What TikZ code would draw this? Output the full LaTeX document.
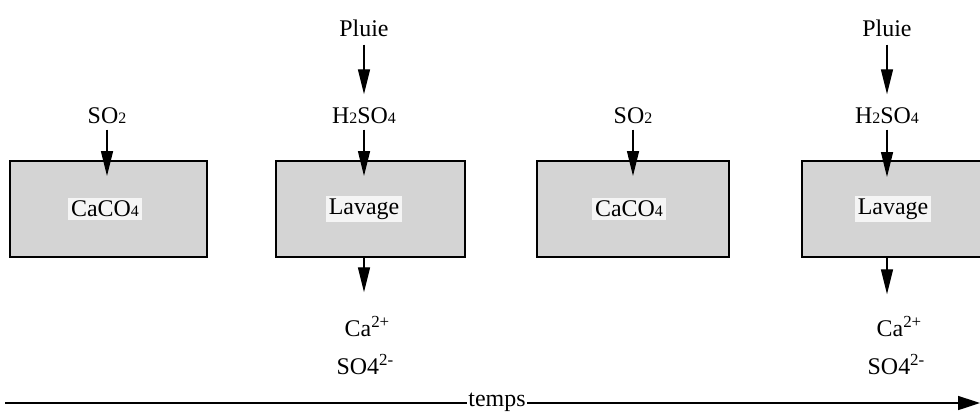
\documentclass[tikz,border=0pt]{standalone}
\usepackage{fontspec}
\setmainfont{Liberation Serif}
\usetikzlibrary{arrows.meta}
\newcommand\chsub[1]{{\fontsize{16}{16}\selectfont #1}}
\newcommand\chsup[1]{\raisebox{9.5bp}{\fontsize{17}{17}\selectfont #1}}
\begin{document}
\begin{tikzpicture}[x=1bp,y=-1bp,
  every node/.style={font=\fontsize{24}{28}\selectfont},
  proc/.style={draw=black, line width=2bp, fill=black!17, minimum height=96bp, inner sep=0pt},
  lbl/.style={inner sep=2bp, text height=17bp, text depth=4bp},
  boxlbl/.style={fill=black!4, inner sep=3bp},
  arr/.style={line width=1.3bp, -{Triangle[length=25bp,width=12bp]}},
  axis/.style={line width=1.6bp, -{Triangle[length=22bp,width=14bp]}}]
\useasboundingbox (0,0) rectangle (980,412);
\clip (0,0) rectangle (980,412);

% boxes
\node[proc, minimum width=197bp] (b1) at (108.5,209) {};
\node[proc, minimum width=189bp] (b2) at (370.5,209) {};
\node[proc, minimum width=192bp] (b3) at (633,209) {};
\node[proc, minimum width=189bp] (b4) at (896.5,209) {};
\node[boxlbl] (t1) at (105,209) {CaCO\chsub{4}};
\node[boxlbl] (t2) at (364,209) {Lavage};
\node[boxlbl] (t3) at (629,209) {CaCO\chsub{4}};
\node[boxlbl] (t4) at (893,209) {Lavage};

% top labels
\node[lbl] (s1) at (107,117) {SO\chsub{2}};
\node[lbl] (p2) at (364,30) {Pluie};
\node[lbl] (h2) at (364,117) {H\chsub{2}SO\chsub{4}};
\node[lbl] (s3) at (633,117) {SO\chsub{2}};
\node[lbl] (p4) at (887,30) {Pluie};
\node[lbl] (h4) at (887,117) {H\chsub{2}SO\chsub{4}};

% bottom labels
\node[lbl] (ca2) at (367,330) {Ca\chsup{2+}};
\node[lbl] (so2) at (365,368) {SO4\chsup{2-}};
\node[lbl] (ca4) at (899,330) {Ca\chsup{2+}};
\node[lbl] (so4) at (896,368) {SO4\chsup{2-}};

% arrow tips inside boxes
\coordinate (e1) at (107,176);
\coordinate (e2) at (364,176);
\coordinate (e3) at (633,176);
\coordinate (e4) at (887,177);

\draw[arr] (s1) -- (e1);
\draw[arr, shorten <=2bp, shorten >=10bp] (p2) -- (h2);
\draw[arr] (h2) -- (e2);
\draw[arr] (s3) -- (e3);
\draw[arr, shorten <=2bp, shorten >=10bp] (p4) -- (h4);
\draw[arr] (h4) -- (e4);
\draw[arr, shorten >=25bp] (h2 |- b2.south) -- (h2 |- ca2.north);
\draw[arr, shorten >=23bp] (h4 |- b4.south) -- (h4 |- ca4.north);

% time axis
\coordinate (a0) at (5,403);
\coordinate (a1) at (980,403);
\draw[axis] (a0) -- (a1);
\node[fill=white, inner sep=1.5bp] (tp) at (497,402.5) {temps};
\end{tikzpicture}
\end{document}
